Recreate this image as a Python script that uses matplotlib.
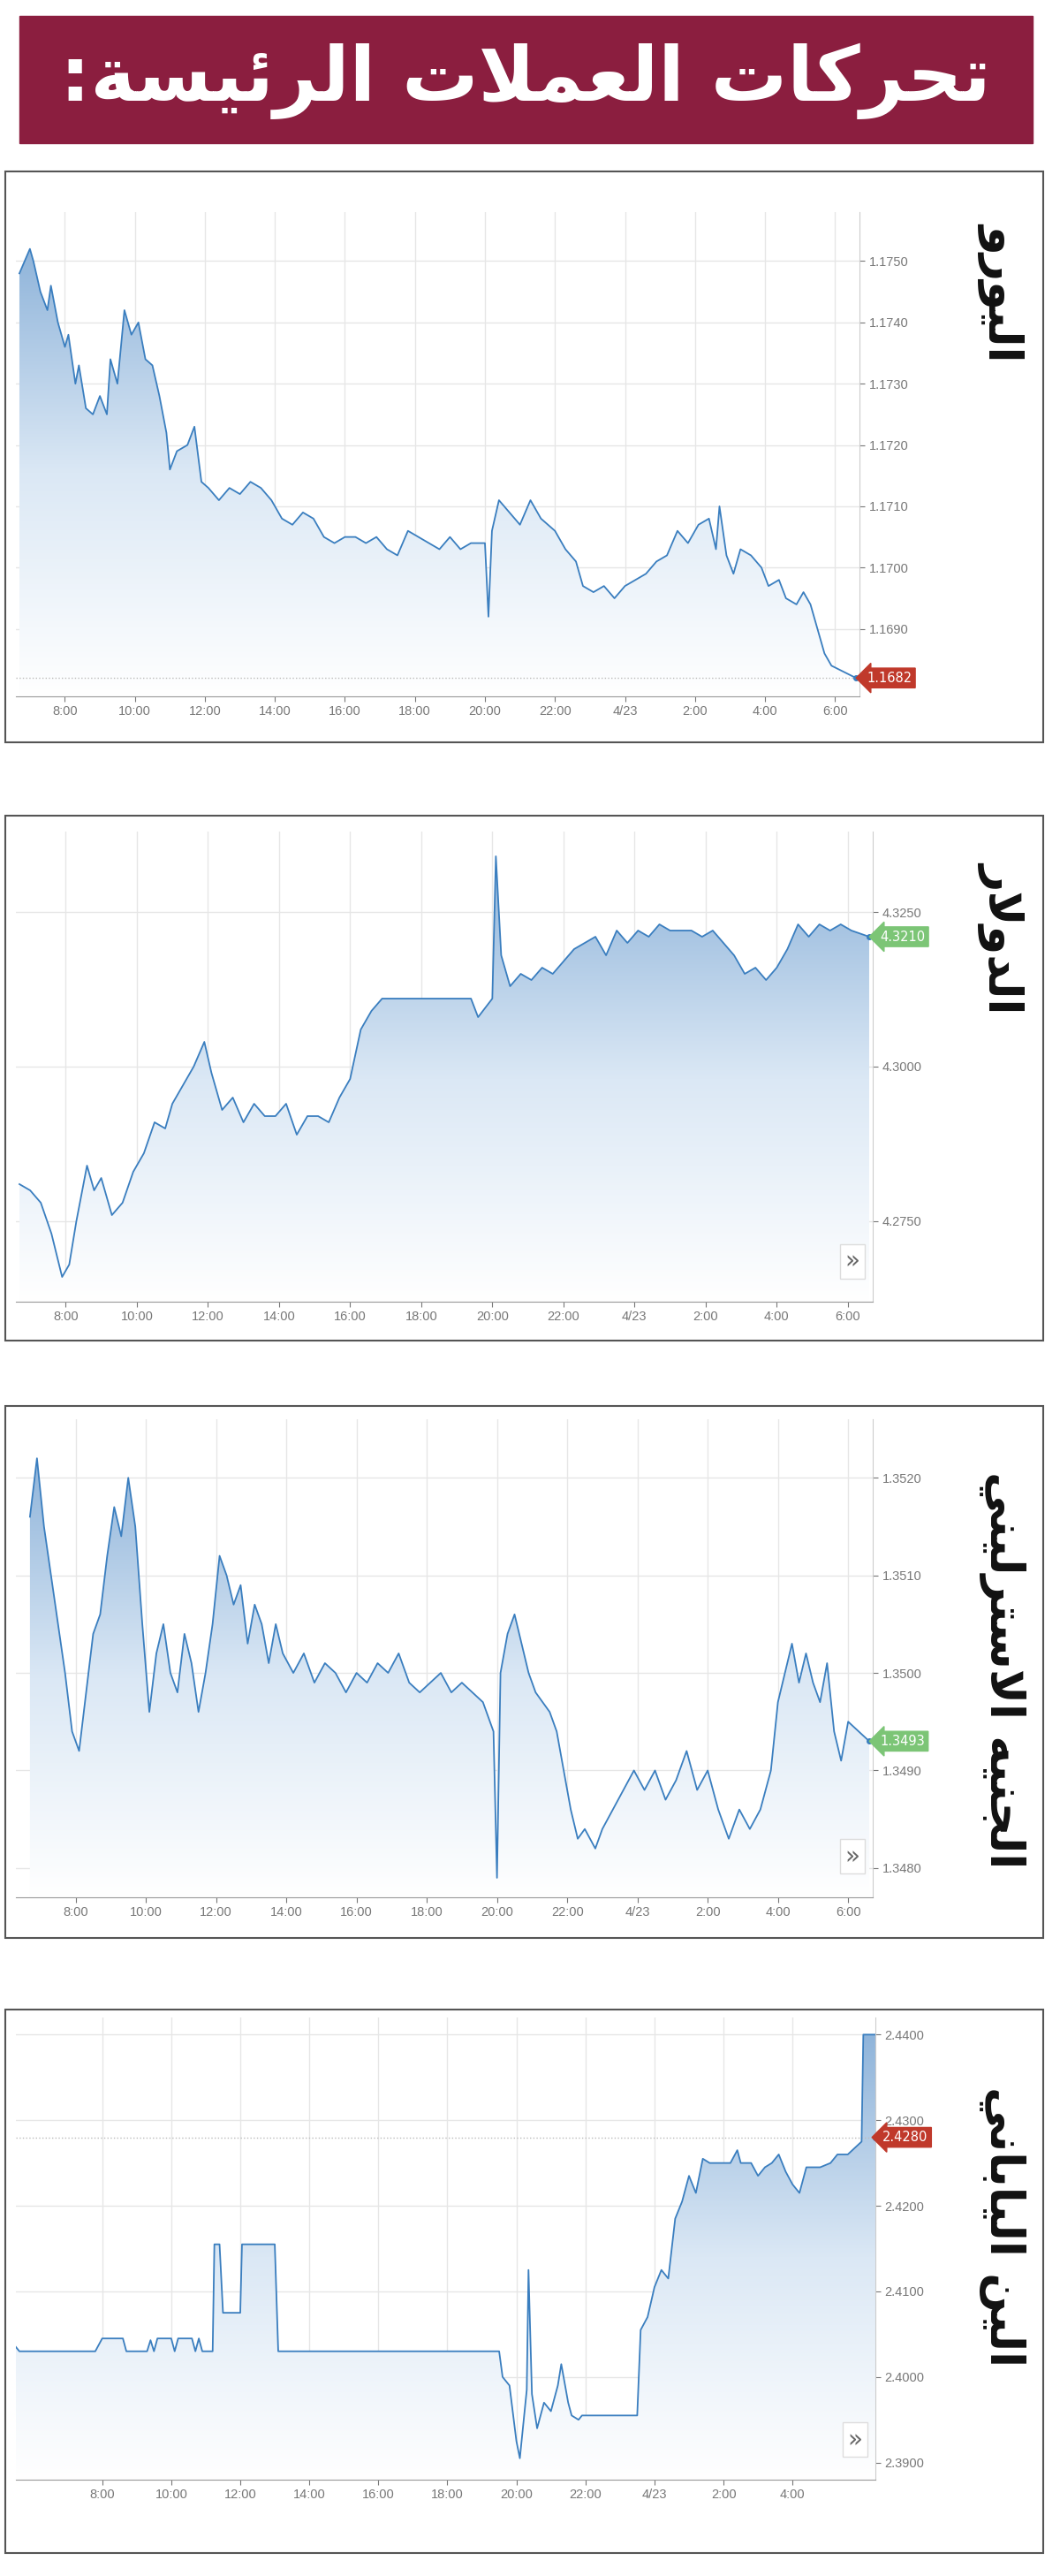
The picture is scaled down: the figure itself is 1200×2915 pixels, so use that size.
import matplotlib
matplotlib.use("Agg")
import matplotlib.pyplot as plt
import numpy as np
from matplotlib.patches import Rectangle, Polygon

W, H = 1200, 2915
eur_x = [6.7,7.0,7.1,7.3,7.5,7.6,7.8,8.0,8.1,8.3,8.4,8.6,8.8,9.0,9.2,9.3,9.5,9.7,9.9,10.1,10.3,10.5,10.7,10.9,11.0,11.2,11.5,11.7,11.9,12.1,12.4,12.7,13.0,13.3,13.6,13.9,14.2,14.5,14.8,15.1,15.4,15.7,16.0,16.3,16.6,16.9,17.2,17.5,17.8,18.1,18.4,18.7,19.0,19.3,19.6,20.0,20.1,20.2,20.4,20.7,21.0,21.3,21.6,22.0,22.3,22.6,22.8,23.1,23.4,23.7,24.0,24.3,24.6,24.9,25.2,25.5,25.8,26.1,26.4,26.6,26.7,26.9,27.1,27.3,27.6,27.9,28.1,28.4,28.6,28.9,29.1,29.3,29.5,29.7,29.9,30.6]
eur_y = [1.1748,1.1752,1.1750,1.1745,1.1742,1.1746,1.1740,1.1736,1.1738,1.1730,1.1733,1.1726,1.1725,1.1728,1.1725,1.1734,1.1730,1.1742,1.1738,1.1740,1.1734,1.1733,1.1728,1.1722,1.1716,1.1719,1.1720,1.1723,1.1714,1.1713,1.1711,1.1713,1.1712,1.1714,1.1713,1.1711,1.1708,1.1707,1.1709,1.1708,1.1705,1.1704,1.1705,1.1705,1.1704,1.1705,1.1703,1.1702,1.1706,1.1705,1.1704,1.1703,1.1705,1.1703,1.1704,1.1704,1.1692,1.1706,1.1711,1.1709,1.1707,1.1711,1.1708,1.1706,1.1703,1.1701,1.1697,1.1696,1.1697,1.1695,1.1697,1.1698,1.1699,1.1701,1.1702,1.1706,1.1704,1.1707,1.1708,1.1703,1.1710,1.1702,1.1699,1.1703,1.1702,1.1700,1.1697,1.1698,1.1695,1.1694,1.1696,1.1694,1.1690,1.1686,1.1684,1.1682]
usd_x = [6.7,7.0,7.3,7.6,7.9,8.1,8.3,8.6,8.8,9.0,9.3,9.6,9.9,10.2,10.5,10.8,11.0,11.3,11.6,11.9,12.1,12.4,12.7,13.0,13.3,13.6,13.9,14.2,14.5,14.8,15.1,15.4,15.7,16.0,16.3,16.6,16.9,17.2,17.6,18.0,19.0,19.4,19.6,20.0,20.1,20.25,20.5,20.8,21.1,21.4,21.7,22.0,22.3,22.6,22.9,23.2,23.5,23.8,24.1,24.4,24.7,25.0,25.3,25.6,25.9,26.2,26.5,26.8,27.1,27.4,27.7,28.0,28.3,28.6,28.9,29.2,29.5,29.8,30.1,30.6]
usd_y = [4.281,4.280,4.278,4.273,4.266,4.268,4.275,4.284,4.280,4.282,4.276,4.278,4.283,4.286,4.291,4.290,4.294,4.297,4.300,4.304,4.299,4.293,4.295,4.291,4.294,4.292,4.292,4.294,4.289,4.292,4.292,4.291,4.295,4.298,4.306,4.309,4.311,4.311,4.311,4.311,4.311,4.311,4.308,4.311,4.334,4.318,4.313,4.315,4.314,4.316,4.315,4.317,4.319,4.320,4.321,4.318,4.322,4.320,4.322,4.321,4.323,4.322,4.322,4.322,4.321,4.322,4.320,4.318,4.315,4.316,4.314,4.316,4.319,4.323,4.321,4.323,4.322,4.323,4.322,4.321]
gbp_x = [6.7,6.9,7.1,7.3,7.5,7.7,7.9,8.1,8.3,8.5,8.7,8.9,9.1,9.3,9.5,9.7,9.9,10.1,10.3,10.5,10.7,10.9,11.1,11.3,11.5,11.7,11.9,12.1,12.3,12.5,12.7,12.9,13.1,13.3,13.5,13.7,13.9,14.2,14.5,14.8,15.1,15.4,15.7,16.0,16.3,16.6,16.9,17.2,17.5,17.8,18.1,18.4,18.7,19.0,19.3,19.6,19.9,20.0,20.1,20.3,20.5,20.7,20.9,21.1,21.3,21.5,21.7,21.9,22.1,22.3,22.5,22.8,23.0,23.3,23.6,23.9,24.2,24.5,24.8,25.1,25.4,25.7,26.0,26.3,26.6,26.9,27.2,27.5,27.8,28.0,28.2,28.4,28.6,28.8,29.0,29.2,29.4,29.6,29.8,30.0,30.6]
gbp_y = [1.3516,1.3522,1.3515,1.3510,1.3505,1.3500,1.3494,1.3492,1.3498,1.3504,1.3506,1.3512,1.3517,1.3514,1.3520,1.3515,1.3505,1.3496,1.3502,1.3505,1.3500,1.3498,1.3504,1.3501,1.3496,1.3500,1.3505,1.3512,1.3510,1.3507,1.3509,1.3503,1.3507,1.3505,1.3501,1.3505,1.3502,1.3500,1.3502,1.3499,1.3501,1.3500,1.3498,1.3500,1.3499,1.3501,1.3500,1.3502,1.3499,1.3498,1.3499,1.3500,1.3498,1.3499,1.3498,1.3497,1.3494,1.3479,1.3500,1.3504,1.3506,1.3503,1.3500,1.3498,1.3497,1.3496,1.3494,1.3490,1.3486,1.3483,1.3484,1.3482,1.3484,1.3486,1.3488,1.3490,1.3488,1.3490,1.3487,1.3489,1.3492,1.3488,1.3490,1.3486,1.3483,1.3486,1.3484,1.3486,1.3490,1.3497,1.3500,1.3503,1.3499,1.3502,1.3499,1.3497,1.3501,1.3494,1.3491,1.3495,1.3493]
jpy_x = [5.5,5.6,7.8,8.0,8.6,8.7,9.3,9.4,9.5,9.6,10.0,10.1,10.2,10.6,10.7,10.8,10.9,11.2,11.25,11.4,11.5,12.0,12.05,13.0,13.1,19.5,19.6,19.8,20.0,20.1,20.3,20.35,20.45,20.6,20.8,21.0,21.2,21.3,21.5,21.6,21.8,21.9,23.5,23.6,23.8,24.0,24.2,24.4,24.6,24.8,25.0,25.2,25.4,25.6,26.2,26.4,26.5,26.8,27.0,27.2,27.4,27.6,27.8,28.0,28.2,28.4,28.8,29.1,29.3,29.6,30.0,30.05,30.4]
jpy_y = [2.4035,2.4030,2.4030,2.4045,2.4045,2.4030,2.4030,2.4043,2.4030,2.4045,2.4045,2.4030,2.4045,2.4045,2.4030,2.4045,2.4030,2.4030,2.4155,2.4155,2.4075,2.4075,2.4155,2.4155,2.4030,2.4030,2.4000,2.3990,2.3925,2.3905,2.3985,2.4125,2.3980,2.3940,2.3970,2.3960,2.3990,2.4015,2.3970,2.3955,2.3950,2.3955,2.3955,2.4055,2.4070,2.4105,2.4125,2.4115,2.4185,2.4205,2.4235,2.4215,2.4255,2.4250,2.4250,2.4265,2.4250,2.4250,2.4235,2.4245,2.4250,2.4260,2.4240,2.4225,2.4215,2.4245,2.4245,2.4250,2.4260,2.4260,2.4275,2.4400,2.4400]

xt_full = [8,10,12,14,16,18,20,22,24,26,28,30]
xt_lab = ["8:00","10:00","12:00","14:00","16:00","18:00","20:00","22:00","4/23","2:00","4:00","6:00"]

title = ":" + "\uFE94\uFEB4\uFEF4\uFE8B\uFEAE\uFEDF\uFE8D" + " " + "\uFE95\uFEFC\uFEE4\uFECC\uFEDF\uFE8D" + " " + "\uFE95\uFE8E\uFEDB\uFEAE\uFEA4\uFE97"
lab_eur = "\uFEED\uFEAD\uFEEE\uFEF4\uFEDF\uFE8D"
lab_usd = "\uFEAD\uFEFB\uFEED\uFEAA\uFEDF\uFE8D"
lab_gbp = "\uFEF2\uFEE8\uFEF4\uFEDF\uFEAE\uFE98\uFEB3\uFEFB\uFE8D" + " " + "\uFEEA\uFEF4\uFEE8\uFEA0\uFEDF\uFE8D"
lab_jpy = "\uFEF2\uFEE7\uFE8E\uFE91\uFE8E\uFEF4\uFEDF\uFE8D" + " " + "\uFEE6\uFEF4\uFEDF\uFE8D"

fig = plt.figure(figsize=(W/100, H/100), dpi=100)
fig.patch.set_facecolor("white")

def fx(x): return x / W
def fy(y): return 1 - y / H

# title banner
fig.patches.append(Rectangle((fx(22), fy(162)), (1169-22)/W, (162-18)/H, transform=fig.transFigure, color="#8b1e3f"))
fig.text(fx(595), fy(92), title, color="white", fontsize=62, fontweight="bold", ha="center", va="center", family=["DejaVu Sans"])

LINE = "#3a7ebf"

def panel(frame, plot, xs, ys, xlim, ylim, yt, ylabfmt, xt, xtl, label, last, lastcol, arrows):
    fl, ft, fr, fb = frame
    fig.patches.append(Rectangle((fx(fl), fy(fb)), (fr-fl)/W, (fb-ft)/H, transform=fig.transFigure, fill=False, ec="#555555", lw=1.5))
    pl, pt, pr, pb = plot
    ax = fig.add_axes([fx(pl), fy(pb), (pr-pl)/W, (pb-pt)/H])
    ax.set_xlim(*xlim); ax.set_ylim(*ylim)
    # gradient fill
    grad = np.linspace(0, 1, 256).reshape(-1, 1)
    from matplotlib.colors import LinearSegmentedColormap
    cmap = LinearSegmentedColormap.from_list("g", ["#ffffff", "#dbe8f5", "#8fb4da"])
    ymax = max(ys)
    im = ax.imshow(grad, cmap=cmap, origin="lower", aspect="auto", extent=[xlim[0], xlim[1], ylim[0], ymax], zorder=1)
    poly = Polygon(list(zip(xs, ys)) + [(xs[-1], ylim[0]), (xs[0], ylim[0])], closed=True, transform=ax.transData, fc="none", ec="none")
    ax.add_patch(poly)
    im.set_clip_path(poly)
    ax.plot(xs, ys, color=LINE, lw=1.3, zorder=3)
    ax.set_xticks(xt); ax.set_xticklabels(xtl)
    ax.set_yticks(yt); ax.set_yticklabels([ylabfmt.format(v) for v in yt])
    ax.yaxis.tick_right()
    ax.grid(True, color="#e6e6e6", lw=1, zorder=0)
    ax.set_axisbelow(True)
    for s in ["top", "left"]:
        ax.spines[s].set_visible(False)
    ax.spines["bottom"].set_color("#999999")
    ax.spines["right"].set_color("#cccccc")
    ax.tick_params(axis="both", labelsize=10.5, colors="#555555", length=4)
    for t in ax.get_xticklabels() + ax.get_yticklabels():
        t.set_family("Liberation Sans Narrow") if False else t.set_family("DejaVu Sans Condensed" if False else "Liberation Sans")
    ax.tick_params(axis="x", colors="#777777")
    ax.tick_params(axis="y", colors="#777777")
    if lastcol == "#c0392b":
        ax.axhline(last, color="#bbbbbb", ls=":", lw=1, zorder=2)
    ax.plot([xs[-1]], [last], "o", color=LINE, ms=4, zorder=4)
    ax.annotate("{:.4f}".format(last), xy=(1.0, last), xycoords=("axes fraction", "data"), xytext=(6, 0), textcoords="offset points",
                ha="left", va="center", fontsize=10.5, color="white",
                bbox=dict(boxstyle="larrow,pad=0.25", fc=lastcol, ec=lastcol), zorder=6, annotation_clip=False)
    if arrows:
        ax.text(0.985, 0.06, "\u00bb", transform=ax.transAxes, ha="right", va="bottom", fontsize=20, color="#666666",
                bbox=dict(boxstyle="square,pad=0.2", fc="white", ec="#dddddd"))
    fig.text(fx(1135), fy((ft + fb) / 2 - 0), label, rotation=270, fontsize=38, fontweight="bold",
             ha="center", va="center", color="#111111", family=["DejaVu Sans"])
    return ax

ax1 = panel((6, 194, 1181, 840), (18, 240, 973, 788), eur_x, eur_y, (6.6, 30.7), (1.1679, 1.1758),
            [1.1690, 1.1700, 1.1710, 1.1720, 1.1730, 1.1740, 1.1750], "{:.4f}", xt_full, xt_lab, None, 1.1682, "#c0392b", False)
fig.texts[-1].set_text(lab_eur); fig.texts[-1].set_position((fx(1135), fy(330)))

ax2 = panel((6, 923, 1181, 1517), (18, 941, 988, 1473), usd_x, usd_y, (6.6, 30.7), (4.2620, 4.3380),
            [4.2750, 4.3000, 4.3250], "{:.4f}", xt_full, xt_lab, lab_usd, 4.3210, "#7cc576", True)
fig.texts[-1].set_position((fx(1135), fy(1060)))

ax3 = panel((6, 1591, 1181, 2193), (18, 1606, 988, 2147), gbp_x, gbp_y, (6.3, 30.7), (1.3477, 1.3526),
            [1.3480, 1.3490, 1.3500, 1.3510, 1.3520], "{:.4f}", xt_full, xt_lab, lab_gbp, 1.3493, "#7cc576", True)
fig.texts[-1].set_position((fx(1135), fy(1890)))

ax4 = panel((6, 2274, 1181, 2889), (18, 2283, 991, 2806), jpy_x, jpy_y, (5.5, 30.4), (2.3880, 2.4420),
            [2.3900, 2.4000, 2.4100, 2.4200, 2.4300, 2.4400], "{:.4f}", xt_full[:-1], xt_lab[:-1], lab_jpy, 2.4280, "#c0392b", True)
fig.texts[-1].set_position((fx(1135), fy(2520)))

fig.savefig("out.png", dpi=100, facecolor="white")
